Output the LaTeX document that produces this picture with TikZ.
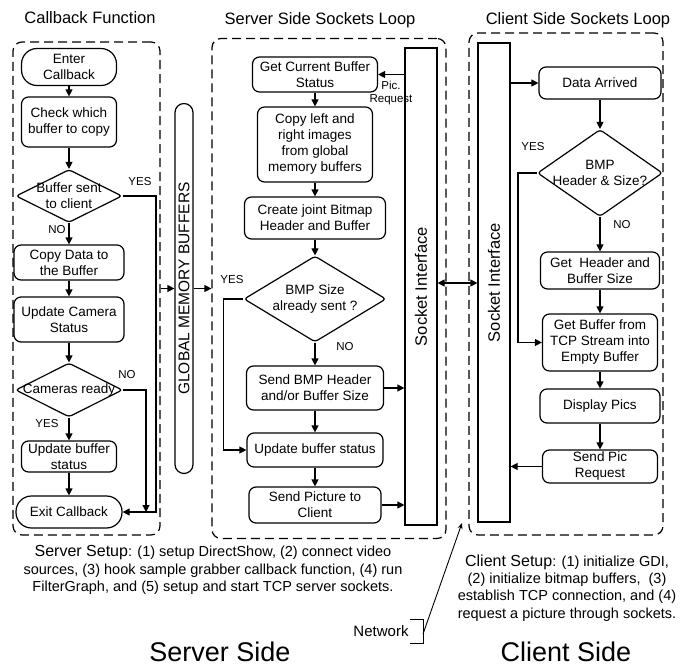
\documentclass[tikz,border=0pt]{standalone}
\usepackage{fontspec}
\setmainfont{Liberation Sans}
\usetikzlibrary{arrows.meta,shapes.geometric}

\newcommand\flowfont{\fontsize{13.5}{16}\selectfont}

\begin{document}
\begin{tikzpicture}[x=1pt,y=-1pt,line width=1.2pt,>={Triangle[length=7pt,width=7pt]},
 box/.style={draw,rounded corners=7pt,align=center,inner sep=0pt,font=\flowfont},
 term/.style={box,rounded corners=15.5pt},
 test/.style={draw,diamond,rounded corners=3pt,inner sep=0pt},
 sock/.style={draw,inner sep=0pt,minimum width=32},
 loopbox/.style={draw,dash pattern=on 9pt off 5pt,rounded corners=9pt,inner sep=0pt},
 every label/.style={align=center,inner sep=0pt,font=\flowfont},
 title/.style={font=\fontsize{16.5}{18}\selectfont},
 tag/.style={inner sep=0pt,align=center,font=\fontsize{11.5}{13}\selectfont},
 note/.style={align=center,font=\fontsize{14.5}{17.2}\selectfont},
 side/.style={font=\fontsize{27}{30}\selectfont}]
 \useasboundingbox (0,0) rectangle (689,669);

 % three dashed loops and their titles
 \node[loopbox,minimum width=147,minimum height=493] (cbloop) at (86.5,288.5) {};
 \node[loopbox,minimum width=234,minimum height=500] (srvloop) at (329,288.5) {};
 \node[loopbox,minimum width=194,minimum height=502] (cliloop) at (566,284) {};
 \node[title] (cbtitle) at (90,18) {Callback Function};
 \node[title] (srvtitle) at (320,20) {Server Side Sockets Loop};
 \node[title] (clititle) at (578,20) {Client Side Sockets Loop};

 % callback function
 \node[term,minimum width=95,minimum height=37] (enter) at (69,67) {Enter\\Callback};
 \node[box,minimum width=95,minimum height=50] (check) at (69,122) {Check which\\buffer to copy};
 \node[test,minimum width=106,minimum height=53,label={center:Buffer sent\\to client}] (sent) at (69,196) {};
 \node[box,minimum width=110,minimum height=35] (copy) at (69,262.5) {Copy Data to\\the Buffer};
 \node[box,minimum width=110,minimum height=45] (camera) at (69,319.5) {Update Camera\\Status};
 \node[test,minimum width=107,minimum height=54,label={center:Cameras ready}] (ready) at (69,390) {};
 \node[box,minimum width=95,minimum height=31] (updcb) at (69,456.5) {Update buffer\\status};
 \node[term,minimum width=106,minimum height=32] (exitcb) at (69,512) {Exit Callback};
 \coordinate (yesdrop) at (156,512);
 \coordinate (nodrop) at (146,512);

 \draw[->] (enter) -- (check);
 \draw[->] (check) -- (sent);
 \draw[->] (sent) -- (copy);
 \draw[->] (copy) -- (camera);
 \draw[->] (camera) -- (ready);
 \draw[->] (ready) -- (updcb);
 \draw[->] (updcb) -- (exitcb);
 \draw[->] (sent.east) -| (yesdrop) -- (exitcb.east);
 \draw[->] (ready.east) -| (nodrop);
 \node[tag] (sentyes) at (140,182) {YES};
 \node[tag] (sentno) at (57,230) {NO};
 \node[tag] (readyno) at (127,375) {NO};
 \node[tag] (readyyes) at (47,424) {YES};

 % shared buffers
 \node[draw,rounded corners=9pt,minimum width=18,minimum height=370,inner sep=0pt,
   label={[rotate=90,font=\fontsize{15.5}{17}\selectfont]center:GLOBAL MEMORY BUFFERS}] (gmb) at (184,288.5) {};
 \draw[->] (cbloop.east) -- (gmb.west);
 \draw[->] (gmb.east) -- (srvloop.west);

 % server side sockets loop
 \node[sock,minimum height=477,label={[rotate=90,font=\fontsize{16.5}{18}\selectfont]center:Socket Interface}] (srvsock) at (421,286.5) {};
 \node[box,minimum width=125,minimum height=35] (getcur) at (315,74.5) {Get Current Buffer\\Status};
 \node[box,minimum width=115,minimum height=75] (copylr) at (315,144.5) {Copy left and\\right images\\from global\\memory buffers};
 \node[box,minimum width=141,minimum height=42] (joint) at (315,218) {Create joint Bitmap\\Header and Buffer};
 \node[test,minimum width=142,minimum height=86,label={center:BMP Size\\already sent ?}] (sizesent) at (315,299) {};
 \node[box,minimum width=137,minimum height=44] (sendhdr) at (315,388) {Send BMP Header\\and/or Buffer Size};
 \node[box,minimum width=136,minimum height=34] (updsrv) at (315,450) {Update buffer status};
 \node[box,minimum width=132,minimum height=36] (sendpic) at (315,505) {Send Picture to\\Client};

 \draw[->] (srvsock.west |- getcur.east) -- (getcur.east);
 \draw[->] (getcur) -- (copylr);
 \draw[->] (copylr) -- (joint);
 \draw[->] (joint) -- (sizesent);
 \draw[->] (sizesent) -- (sendhdr);
 \draw[->] (sendhdr) -- (updsrv);
 \draw[->] (updsrv) -- (sendpic);
 \draw[->] (sizesent.west) -- ++(-20,0) |- (updsrv.west);
 \draw[->] (sendhdr.east) -- (sendhdr.east -| srvsock.west);
 \draw[->] (sendpic.east) -- (sendpic.east -| srvsock.west);
 \node[tag] (picreq) at (391,93) {Pic.\\Request};
 \node[tag] (sizeyes) at (232,280) {YES};
 \node[tag] (sizeno) at (345,347) {NO};

 % client side sockets loop
 \node[sock,minimum height=479,label={[rotate=90,font=\fontsize{16.5}{18}\selectfont]center:Socket Interface}] (clisock) at (494,282.5) {};
 \node[box,minimum width=122,minimum height=32] (arrived) at (600,83) {Data Arrived};
 \node[test,minimum width=125,minimum height=87,label={center:BMP\\Header \& Size?}] (hdrq) at (600,173) {};
 \node[box,minimum width=119,minimum height=37] (gethdr) at (600,270.5) {Get\ \ Header and\\Buffer Size};
 \node[box,minimum width=115,minimum height=57] (getbuf) at (600,342.5) {Get Buffer from\\TCP Stream into\\Empty Buffer};
 \node[box,minimum width=120,minimum height=34] (display) at (600,406) {Display Pics};
 \node[box,minimum width=115,minimum height=33] (sendreq) at (600,466.5) {Send Pic\\Request};

 \draw[->] (clisock.east |- arrived.west) -- (arrived.west);
 \draw[->] (arrived) -- (hdrq);
 \draw[->] (hdrq) -- (gethdr);
 \draw[->] (gethdr) -- (getbuf);
 \draw[->] (getbuf) -- (display);
 \draw[->] (display) -- (sendreq);
 \draw[->] (hdrq.west) -- ++(-19,0) |- (getbuf.west);
 \draw[->] (sendreq.west) -- (sendreq.west -| clisock.east);
 \node[tag] (hdryes) at (533,147) {YES};
 \node[tag] (hdrno) at (622,225) {NO};

 % link between the two socket interfaces
 \coordinate (link) at (457,283);
 \draw[<->] (link -| srvsock.east) -- (link -| clisock.west);

 % setup notes
 \node[note] (srvsetup) at (213,570) {{\fontsize{16}{17.2}\selectfont Server Setup}: (1) setup DirectShow, (2) connect video\\sources, (3) hook sample grabber callback function, (4) run\\FilterGraph, and (5) setup and start TCP server sockets.};
 \node[note] (clisetup) at (567,588) {{\fontsize{16}{17.2}\selectfont Client Setup}: (1) initialize GDI,\\(2) initialize bitmap buffers,\ \ (3)\\establish TCP connection, and (4)\\request a picture through sockets.};

 % network pointer
 \node[font=\fontsize{15}{17}\selectfont] (netlabel) at (381,631) {Network};
 \draw[line width=1pt] (410,619) -| (423,643) -- (410,643);
 \coordinate (netfoot) at (423,634);
 \coordinate (nettip) at (462,523);
 \draw[line width=0.9pt,-{Stealth[length=6pt,width=5pt]}] (netfoot) -- (nettip);

 \node[side] (srvside) at (220,652) {Server Side};
 \node[side] (clientside) at (566,652) {Client Side};
\end{tikzpicture}
\end{document}
